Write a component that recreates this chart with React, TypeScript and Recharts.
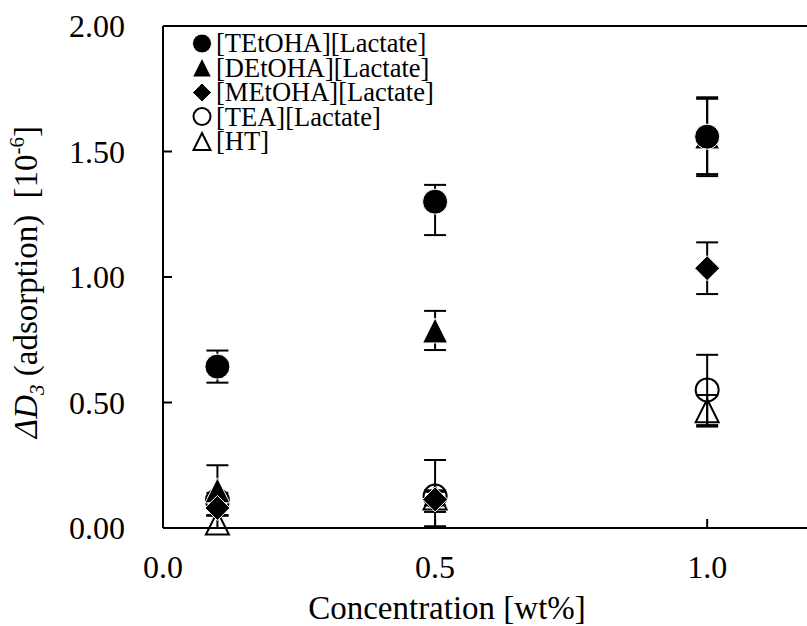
import {
  ErrorBar,
  Label,
  Legend,
  ReferenceLine,
  Scatter,
  ScatterChart,
  XAxis,
  YAxis,
} from "recharts";

const FONT = "Liberation Serif, DejaVu Serif, serif";

// x positions (wt%)
const concentrations = [0.1, 0.5, 1.0];

// ΔD3 values and [lower, upper] error, one array per series
const tetohaValues = [0.643, 1.3, 1.559];
const tetohaErrors = [[0.064, 0.064], [0.133, 0.067], [0.157, 0.157]];
const detohaValues = [0.15, 0.787, 1.56];
const detohaErrors = [[0.1, 0.1], [0.078, 0.078], [0.15, 0.15]];
const metohaValues = [0.08, 0.114, 1.035];
const metohaErrors = [[0.03, 0.03], [0.05, 0.03], [0.103, 0.103]];
const teaValues = [0.11, 0.127, 0.55];
const teaErrors = [[0.03, 0.03], [0.12, 0.144], [0.14, 0.14]];
const htValues = [0.02, 0.12, 0.467];
const htErrors = [[0.02, 0.03], [0.03, 0.03], [0.063, 0.063]];

const xTicks = [0, 0.5, 1.0];
const yTicks = [0, 0.5, 1.0, 1.5, 2.0];

type Kind = "circle" | "triangle" | "diamond" | "openCircle" | "openTriangle";

const build = (values: number[], errors: number[][]) =>
  concentrations.map((x, i) => ({ x, y: values[i], err: errors[i] }));

const series: { name: string; kind: Kind; data: ReturnType<typeof build> }[] = [
  { name: "[TEtOHA][Lactate]", kind: "circle", data: build(tetohaValues, tetohaErrors) },
  { name: "[DEtOHA][Lactate]", kind: "triangle", data: build(detohaValues, detohaErrors) },
  { name: "[MEtOHA][Lactate]", kind: "diamond", data: build(metohaValues, metohaErrors) },
  { name: "[TEA][Lactate]", kind: "openCircle", data: build(teaValues, teaErrors) },
  { name: "[HT]", kind: "openTriangle", data: build(htValues, htErrors) },
];

// paint order: open markers first, filled ones on top
const drawOrder = [3, 4, 1, 0, 2];

function Marker({ cx, cy, kind, r }: { cx: number; cy: number; kind: Kind; r: number }) {
  const filled = kind === "circle" || kind === "triangle" || kind === "diamond";
  const fill = filled ? "#000" : "none";
  const stroke = filled ? "#fff" : "#000";
  const sw = filled ? 1 : 2;
  if (kind === "circle" || kind === "openCircle") {
    return <circle cx={cx} cy={cy} r={filled ? r : r - 1} fill={fill} stroke={stroke} strokeWidth={sw} />;
  }
  if (kind === "diamond") {
    const p = `${cx},${cy - r} ${cx + r},${cy} ${cx},${cy + r} ${cx - r},${cy}`;
    return <polygon points={p} fill={fill} stroke={stroke} strokeWidth={sw} />;
  }
  const h = filled ? r : r - 1;
  const p = `${cx},${cy - h} ${cx + h},${cy + h} ${cx - h},${cy + h}`;
  return <polygon points={p} fill={fill} stroke={stroke} strokeWidth={sw} strokeLinejoin="miter" />;
}

function YTick(props: any) {
  const { x, y, payload } = props;
  return (
    <g>
      <line x1={x} y1={y} x2={x + 9} y2={y} stroke="#000" strokeWidth={2} />
      <text x={x - 38} y={y} dy="0.35em" textAnchor="end" style={{ fontFamily: FONT, fontSize: 32 }} fill="#000">
        {Number(payload.value).toFixed(2)}
      </text>
    </g>
  );
}

function XTick(props: any) {
  const { x, y, payload } = props;
  return (
    <g>
      <line x1={x} y1={y} x2={x} y2={y - 9} stroke="#000" strokeWidth={2} />
      <text x={x} y={y + 50} textAnchor="middle" style={{ fontFamily: FONT, fontSize: 32 }} fill="#000">
        {Number(payload.value).toFixed(1)}
      </text>
    </g>
  );
}

function LegendBox() {
  return (
    <div style={{ fontFamily: FONT, fontSize: 26.5, color: "#000" }}>
      {series.map((s) => (
        <div key={s.name} style={{ display: "flex", alignItems: "center", height: 24.5, whiteSpace: "nowrap" }}>
          <svg width={25} height={21}>
            <Marker cx={11} cy={10.5} kind={s.kind} r={9.5} />
          </svg>
          <span style={{ lineHeight: "24px" }}>{s.name}</span>
        </div>
      ))}
    </div>
  );
}

export default function App() {
  return (
    <div style={{ position: "fixed", left: 0, top: 0, width: 807, height: 626, overflow: "hidden", background: "#fff" }}>
      <ScatterChart width={820} height={626} margin={{ top: 26, right: 4, bottom: 0, left: 0 }}>
        <XAxis
          type="number"
          dataKey="x"
          domain={[0, 1.2]}
          ticks={xTicks}
          interval={0}
          height={98}
          tickSize={0}
          tickMargin={0}
          tickLine={false}
          axisLine={{ stroke: "#000", strokeWidth: 2 }}
          tick={<XTick />}
        >
          <Label
            content={() => (
              <text x={447} y={619} textAnchor="middle" fill="#000" style={{ fontFamily: FONT, fontSize: 33, whiteSpace: "pre" }}>
                Concentration [wt%]
              </text>
            )}
          />
        </XAxis>
        <YAxis
          type="number"
          dataKey="y"
          domain={[0, 2]}
          ticks={yTicks}
          interval={0}
          width={163}
          tickSize={0}
          tickMargin={0}
          tickLine={false}
          axisLine={{ stroke: "#000", strokeWidth: 2 }}
          tick={<YTick />}
        >
          <Label
            content={() => (
              <text
                transform="rotate(-90)"
                x={-282}
                y={37}
                textAnchor="middle"
                fill="#000"
                style={{ fontFamily: FONT, fontSize: 33, whiteSpace: "pre" }}
              >
                <tspan fontStyle="italic">ΔD</tspan>
                <tspan fontStyle="italic" fontSize={21} dy={7}>3</tspan>
                <tspan dy={-7}> (adsorption)  [10</tspan>
                <tspan fontSize={21} dy={-13}>-6</tspan>
                <tspan dy={13}>]</tspan>
              </text>
            )}
          />
        </YAxis>
        <ReferenceLine y={2} stroke="#000" strokeWidth={2} />
        <Legend
          layout="vertical"
          align="center"
          verticalAlign="middle"
          content={() => <LegendBox />}
          wrapperStyle={{ position: "absolute", left: 191, top: 31, width: "auto" }}
        />
        {drawOrder.map((i) => {
          const s = series[i];
          return (
            <Scatter
              key={s.name}
              name={s.name}
              data={s.data}
              isAnimationActive={false}
              shape={(p: any) => <Marker cx={p.cx} cy={p.cy} kind={s.kind} r={12.5} />}
            >
              <ErrorBar dataKey="err" direction="y" width={11} stroke="#000" strokeWidth={2} />
            </Scatter>
          );
        })}
      </ScatterChart>
    </div>
  );
}
